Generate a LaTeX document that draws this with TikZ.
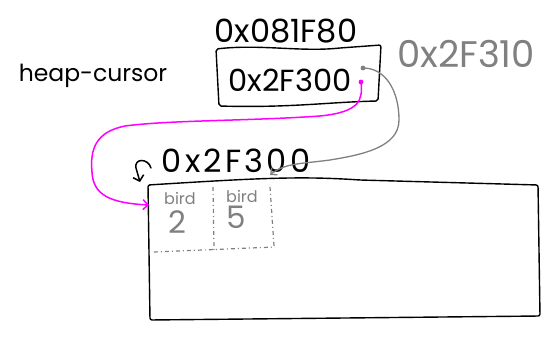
\documentclass[tikz,border=0pt]{standalone}
\usepackage{fontspec}
\setmainfont{Poppins}
\usetikzlibrary{arrows.meta}
\definecolor{pinkink}{RGB}{255,0,255}
\definecolor{greyink}{RGB}{128,128,128}

\begin{document}
\begin{tikzpicture}[x=1pt,y=-1pt,
  ink/.style={line width=1.4pt,line cap=round,line join=round,rounded corners=2pt},
  label/.style={inner sep=0pt,font=\fontsize{32}{32}\selectfont},
  greylabel/.style={label,text=greyink},
  cellline/.style={greyink,line width=1.2pt,dash pattern=on 4pt off 3pt on 1pt off 3pt},
  cellword/.style={inner sep=0pt,text=greyink,font=\fontsize{16}{16}\selectfont},
  celldigit/.style={inner sep=0pt,text=greyink,font=\fontsize{31}{31}\selectfont},
  ptr/.style={pinkink,line width=1.5pt,line cap=round},
  nxt/.style={greyink,line width=1.3pt,line cap=round}]
\useasboundingbox (0,0) rectangle (556,339);

% variable name and its cell
\node[label,font=\fontsize{23.5}{23.5}\selectfont] (name) at (93,76) {heap-cursor};
\node[label] (addr) at (286,31) {0x081F80};
\draw[ink] (216,49) .. controls (260,44) and (300,52) .. (340,48) -- (381,45)
  -- (378,101) .. controls (330,102) and (290,108) .. (219,106) -- cycle;
\node[label,font=\fontsize{30.5}{30.5}\selectfont] (val) at (290,80) {0x2F300};
\node[greylabel,font=\fontsize{37}{37}\selectfont] (nextaddr) at (466,54) {0x2F310};

% heap block
\node[label,font=\fontsize{32}{32}\selectfont\addfontfeatures{LetterSpace=10}] (base) at (236,161) {0x2F300};
\draw[ink] (148,185) .. controls (260,178) and (300,176) .. (360,180) -- (538,185) -- (540,316) -- (150,320) -- cycle;

% two allocated birds
\draw[cellline] (213,187) -- (214,250);
\draw[cellline] (270,187) -- (274,246);
\draw[cellline] (154,252) -- (275,247);
\node[cellword] (w1) at (180,198) {bird};
\node[celldigit] (d1) at (177,222) {2};
\node[cellword] (w2) at (242,196) {bird};
\node[celldigit] (d2) at (236,217) {5};

% pointer endpoints
\coordinate (mdot) at (361,82);
\coordinate (gdot) at (363,68);
\coordinate (hit) at (149,205);
\coordinate (free) at (270,175);
\coordinate (corner) at (140,182);

\fill[pinkink] (mdot) circle (2.4pt);
\fill[greyink] (gdot) circle (2.4pt);

\draw[ptr,-{Straight Barb[length=5pt,width=10pt]}] (mdot) .. controls (363,100) and (360,112) .. (320,116)
  .. controls (250,121) and (170,120) .. (125,126)
  .. controls (95,132) and (90,150) .. (92,172)
  .. controls (93,195) and (110,203) .. (hit);

\draw[nxt,-{Straight Barb[length=5pt,width=9pt]}] (gdot) .. controls (385,68) and (399,90) .. (399,120)
  .. controls (399,148) and (360,155) .. (330,160)
  .. controls (300,164) and (285,163) .. (free);

% small hook into the block's corner
\draw[line width=1.5pt,line cap=round,-{Straight Barb[length=5pt,width=11pt]}] (151,168) .. controls (148,158) and (134,158) .. (136,168) -- (corner);
\end{tikzpicture}
\end{document}
